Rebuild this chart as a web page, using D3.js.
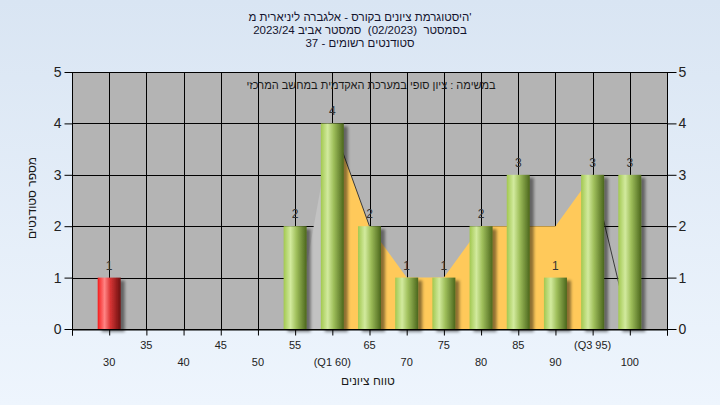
<!DOCTYPE html>
<html><head><meta charset="utf-8">
<script src="https://cdn.jsdelivr.net/npm/d3@7/dist/d3.min.js"></script>
<style>
body{margin:0;background:#e6eef9;}
svg{display:block;font-family:"Liberation Sans",Arial,sans-serif;}
.rtl{direction:rtl;unicode-bidi:embed;white-space:pre;}
</style>
</head><body>
<svg id="chart" width="720" height="405"></svg>
<script>
// ---- data ----
const grades = [30, 55, 60, 65, 70, 75, 80, 85, 90, 95, 100];
const counts = [1, 2, 4, 2, 1, 1, 2, 3, 1, 3, 3];
const barKinds = ["fail", "pass", "pass", "pass", "pass", "pass", "pass", "pass", "pass", "pass", "pass"];
const trendX = [55, 60, 65, 70, 75, 80, 85, 90, 95, 100];
const trendY = [0, 4, 2, 1, 1, 2, 2, 2, 3, 0];
const xTicks = [30, 35, 40, 45, 50, 55, 60, 65, 70, 75, 80, 85, 90, 95, 100];
const xTickLabels = ["30", "35", "40", "45", "50", "55", "(Q1 60)", "65", "70", "75", "80", "85", "90", "(Q3 95)", "100"];
const yTicks = [0, 1, 2, 3, 4, 5];
const titleLines = [
  "'היסטוגרמת ציונים בקורס - אלגברה ליניארית מ",
  "בסמסטר  (02/2023)  סמסטר אביב 2023/24",
  "סטודנטים רשומים - 37"
];
const legendText = "במשימה : ציון סופי במערכת האקדמית במחשב המרכזי";
const xTitle = "טווח ציונים";
const yTitle = "מספר סטודנטים";

// ---- layout ----
const W = 720, H = 405;
const plot = {left: 72, right: 667, top: 72, bottom: 329};
const x = d3.scaleLinear().domain([25, 105]).range([plot.left, plot.right]);
const y = d3.scaleLinear().domain([0, 5]).range([plot.bottom, plot.top]);
const barW = 23;

const svg = d3.select("#chart");
const defs = svg.append("defs");

const bg = defs.append("linearGradient").attr("id", "bg").attr("x1", 0).attr("y1", 0).attr("x2", 0).attr("y2", 1);
bg.append("stop").attr("offset", "0%").attr("stop-color", "#d9e5f3");
bg.append("stop").attr("offset", "100%").attr("stop-color", "#eef5fd");

function cyl(id, stops) {
  const g = defs.append("linearGradient").attr("id", id).attr("x1", 0).attr("y1", 0).attr("x2", 1).attr("y2", 0);
  stops.forEach(s => g.append("stop").attr("offset", s[0]).attr("stop-color", s[1]));
}
cyl("gPass", [["0%", "#a2c850"], ["30%", "#d2ea9e"], ["55%", "#a0c05c"], ["100%", "#4b661c"]]);
cyl("gFail", [["0%", "#f41c1c"], ["30%", "#ff8484"], ["55%", "#d83434"], ["100%", "#6a1010"]]);

const sh = defs.append("filter").attr("id", "shadow").attr("x", "-20%").attr("y", "-20%").attr("width", "160%").attr("height", "140%");
sh.append("feDropShadow").attr("dx", 4).attr("dy", 3).attr("stdDeviation", 1.8)
  .attr("flood-color", "#000").attr("flood-opacity", 0.45);

svg.append("rect").attr("width", W).attr("height", H).attr("fill", "url(#bg)");

// plot background
svg.append("rect").attr("x", plot.left).attr("y", plot.top)
  .attr("width", plot.right - plot.left).attr("height", plot.bottom - plot.top)
  .attr("fill", "#b4b4b4");

// gridlines
const gridX = d3.range(25, 106, 5);
svg.append("g").selectAll("line").data(gridX).join("line")
  .attr("x1", d => Math.round(x(d)) + 0.5).attr("x2", d => Math.round(x(d)) + 0.5)
  .attr("y1", plot.top).attr("y2", plot.bottom)
  .attr("stroke", "#000").attr("stroke-width", 1);
svg.append("g").selectAll("line").data(yTicks).join("line")
  .attr("y1", d => Math.round(y(d)) + 0.5).attr("y2", d => Math.round(y(d)) + 0.5)
  .attr("x1", plot.left).attr("x2", plot.right)
  .attr("stroke", "#000").attr("stroke-width", 1);

// trend area
const pts = trendX.map((v, i) => [v, trendY[i]]);
const area = d3.area().x(d => x(d[0])).y0(y(0)).y1(d => y(d[1]));
svg.append("path").datum(pts.slice(0, 2)).attr("d", area).attr("fill", "#c2c2c2");
svg.append("path").datum(pts.slice(1, pts.length - 1)).attr("d", area).attr("fill", "#ffc95a");
const line = d3.line().x(d => x(d[0])).y(d => y(d[1]));
svg.append("path").datum(pts.slice(1, 3)).attr("d", line).attr("fill", "none").attr("stroke", "#3a3a3a").attr("stroke-width", 1);
svg.append("path").datum(pts.slice(pts.length - 2)).attr("d", line).attr("fill", "none").attr("stroke", "#3a3a3a").attr("stroke-width", 1);

// bars
const bars = grades.map((g, i) => ({g, c: counts[i], k: barKinds[i]}));
svg.append("g").selectAll("rect").data(bars).join("rect")
  .attr("x", d => x(d.g) - barW / 2).attr("width", barW)
  .attr("y", d => y(d.c)).attr("height", d => y(0) - y(d.c))
  .attr("fill", d => d.k === "fail" ? "url(#gFail)" : "url(#gPass)")
  .attr("filter", "url(#shadow)");

// value labels
svg.append("g").selectAll("text").data(bars).join("text")
  .attr("x", d => x(d.g)).attr("y", d => y(d.c) - 8)
  .attr("text-anchor", "middle").attr("font-size", 12).attr("fill", "#333")
  .text(d => d.c);

// plot border
svg.append("rect").attr("x", plot.left + 0.5).attr("y", plot.top + 0.5)
  .attr("width", plot.right - plot.left).attr("height", plot.bottom - plot.top)
  .attr("fill", "none").attr("stroke", "#000");

// axes
const yl = svg.append("g").attr("transform", `translate(${plot.left + 0.5},0)`)
  .call(d3.axisLeft(y).tickValues(yTicks).tickSize(8).tickPadding(3).tickFormat(d3.format("d")));
const yr = svg.append("g").attr("transform", `translate(${plot.right + 0.5},0)`)
  .call(d3.axisRight(y).tickValues(yTicks).tickSize(9).tickPadding(2).tickFormat(d3.format("d")));
[yl, yr].forEach(a => {
  a.select(".domain").remove();
  a.selectAll("line").attr("stroke", "#000");
  a.selectAll("text").attr("font-size", 14).attr("fill", "#222").attr("font-family", "'Liberation Sans',Arial,sans-serif");
});

const xa = svg.append("g").attr("transform", `translate(0,${plot.bottom + 0.5})`)
  .call(d3.axisBottom(x).tickValues(gridX).tickSize(6).tickFormat(""));
xa.select(".domain").attr("stroke", "#000");
xa.selectAll("line").attr("stroke", "#000");

svg.append("g").selectAll("text").data(xTicks).join("text")
  .attr("x", d => x(d)).attr("y", (d, i) => i % 2 === 0 ? 366 : 349)
  .attr("text-anchor", "middle").attr("font-size", 11).attr("fill", "#222")
  .text((d, i) => xTickLabels[i]);

// titles
svg.append("g").selectAll("text").data(titleLines).join("text")
  .attr("class", "rtl")
  .attr("x", 360).attr("y", (d, i) => 21 + i * 13)
  .attr("text-anchor", "middle").attr("font-size", 11.5).attr("fill", "#14142e")
  .text(d => d);

svg.append("text").attr("class", "rtl").attr("x", 371).attr("y", 89).attr("text-anchor", "middle")
  .attr("font-size", 11).attr("fill", "#1a1a1a").text(legendText);

svg.append("text").attr("class", "rtl").attr("x", 368).attr("y", 385).attr("text-anchor", "middle")
  .attr("font-size", 12).attr("fill", "#1a1a1a").text(xTitle);

svg.append("text").attr("class", "rtl").attr("transform", "translate(36,198) rotate(-90)").attr("text-anchor", "middle")
  .attr("font-size", 12).attr("fill", "#1a1a1a").text(yTitle);
</script>
</body></html>
